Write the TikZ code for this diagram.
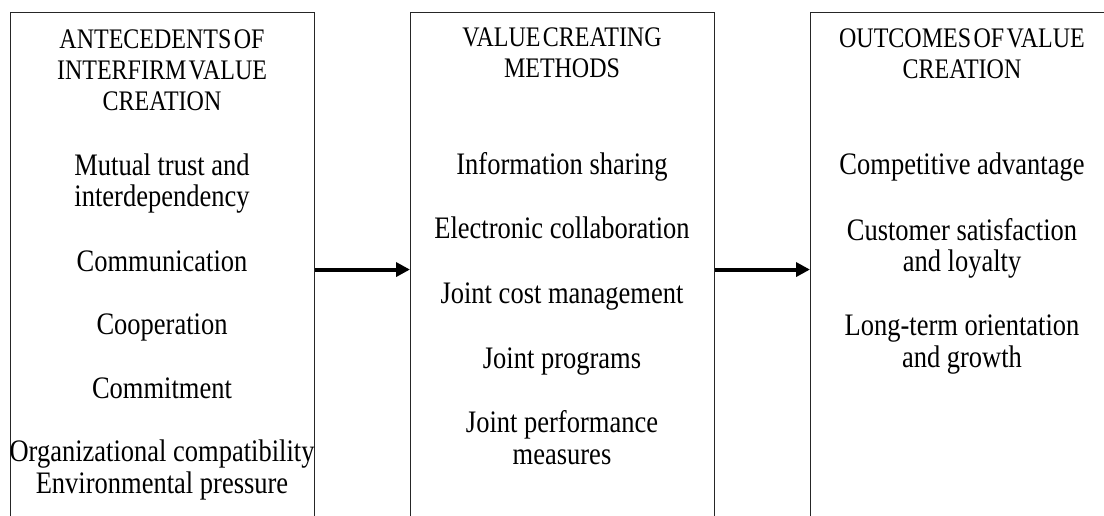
\documentclass[tikz,border=0pt]{standalone}
\usepackage{fontspec}
\setmainfont{Liberation Serif}
\newfontfamily\headfont[WordSpace=0.4]{Liberation Serif}
\usetikzlibrary{arrows.meta}

\begin{document}
\begin{tikzpicture}[x=1pt, y=1pt, >={Triangle[length=14pt,width=14pt]},
		column/.style={draw=black!85, line width=1.1pt, minimum width=304pt, minimum height=514pt, anchor=north west, inner sep=0pt},
		heading/.style={anchor=base, align=center, yscale=1.18, transform shape, font=\headfont\fontsize{24}{26.3}\selectfont},
		item/.style={anchor=base, align=center, yscale=1.18, transform shape, font=\fontsize{26.5}{26.3}\selectfont},
		flow/.style={->, line width=4pt}]
			\useasboundingbox (0,0) rectangle (1104,515);
			\clip (0,0) rectangle (1104,515);
			% three columns, running off the page at the bottom
			\node[column] (ante) at (10,503) {};
			\node[column] (meth) at (410,503) {};
			\node[column] (outc) at (810,503) {};
			% headings (base = last line)
			\node[heading] (anteh) at (162,404) {ANTECEDENTS OF\\INTERFIRM VALUE\\CREATION};
			\node[heading] (methh) at (562,437) {VALUE CREATING\\METHODS};
			\node[heading] (outch) at (962,436) {OUTCOMES OF VALUE\\CREATION};
			% antecedents
			\node[item] (trust) at (162,308) {Mutual trust and\\interdependency};
			\node[item] (comm) at (162,243) {Communication};
			\node[item] (coop) at (162,180) {Cooperation};
			\node[item] (commit) at (162,117) {Commitment};
			\node[item] (orgenv) at (162,22) {Organizational compatibility\\Environmental pressure};
			% methods
			\node[item] (info) at (562,340) {Information sharing};
			\node[item] (ecollab) at (562,276) {Electronic collaboration};
			\node[item] (cost) at (562,212) {Joint cost management};
			\node[item] (prog) at (562,147) {Joint programs};
			\node[item] (perf) at (562,51) {Joint performance\\measures};
			% outcomes
			\node[item] (compadv) at (962,340) {Competitive advantage};
			\node[item] (custsat) at (962,243) {Customer satisfaction\\and loyalty};
			\node[item] (longterm) at (962,148) {Long-term orientation\\and growth};
			% links between the columns
			\draw[flow] (ante) -- (meth);
			\draw[flow] (meth) -- (outc);
		\end{tikzpicture}
\end{document}
